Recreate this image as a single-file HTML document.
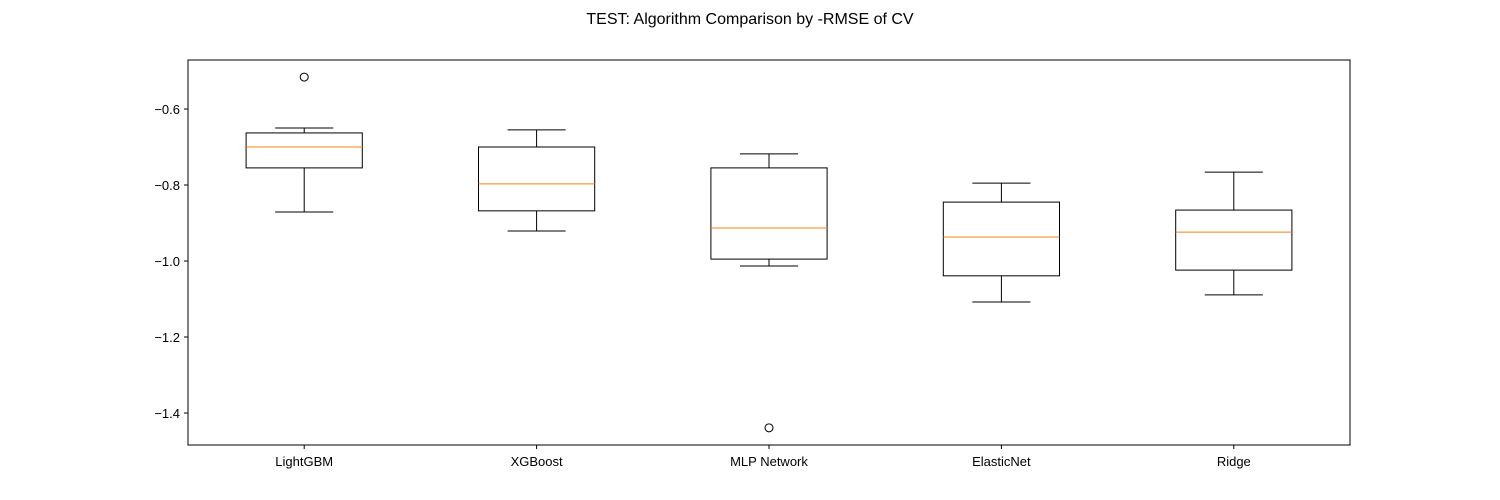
<!DOCTYPE html>
<html><head><meta charset="utf-8"><style>
body{margin:0;background:#fff;}
svg{display:block;font-family:"Liberation Sans","DejaVu Sans",sans-serif;}
</style></head><body>
<svg id="chart" width="1500" height="500" viewBox="0 0 1500 500" xmlns="http://www.w3.org/2000/svg">
<text x="750" y="24" text-anchor="middle" font-size="16">TEST: Algorithm Comparison by -RMSE of CV</text>
<rect x="188" y="60" width="1162" height="385" fill="none" stroke="#000" stroke-width="1"/>
<g id="ticks"></g><g id="boxes"></g>
</svg>
<script>
const categories=["LightGBM","XGBoost","MLP Network","ElasticNet","Ridge"];
const whiskerHigh=[-0.650,-0.655,-0.718,-0.795,-0.766];
const q3=[-0.663,-0.700,-0.755,-0.845,-0.866];
const medians=[-0.700,-0.797,-0.913,-0.937,-0.924];
const q1=[-0.755,-0.868,-0.995,-1.039,-1.024];
const whiskerLow=[-0.871,-0.921,-1.013,-1.108,-1.089];
const outliers=[[-0.516],[],[-1.439],[],[]];
const yTicks=[-0.6,-0.8,-1.0,-1.2,-1.4];
const yTickLabels=["\u22120.6","\u22120.8","\u22121.0","\u22121.2","\u22121.4"];

const NS="http://www.w3.org/2000/svg";
const left=188,right=1350;
const step=(right-left)/categories.length;
function xScale(i){return left+step*(i+0.5);}
function yScale(v){return 109+(-0.6-v)*380;}
function mk(tag,attrs,parent){const e=document.createElementNS(NS,tag);for(const k in attrs)e.setAttribute(k,attrs[k]);parent.appendChild(e);return e;}
const tg=document.getElementById('ticks'),bg=document.getElementById('boxes');
yTicks.forEach((v,i)=>{
  const y=yScale(v);
  const t=mk('line',{x1:left-4,x2:left,y1:y,y2:y,stroke:'#000'},tg);
  
  
  const l=mk('text',{x:left-8,y:y+5,'text-anchor':'end','font-size':'13'},tg);
  l.textContent=yTickLabels[i];
  
  
});
const bw=step*0.5,cw=step*0.25;
categories.forEach((c,i)=>{
  const x=xScale(i);
  const g=mk('g',{},bg);
  
  
  mk('line',{x1:x,x2:x,y1:yScale(whiskerHigh[i]),y2:yScale(q3[i]),stroke:'#000'},g);
  mk('line',{x1:x,x2:x,y1:yScale(q1[i]),y2:yScale(whiskerLow[i]),stroke:'#000'},g);
  mk('line',{x1:x-cw/2,x2:x+cw/2,y1:yScale(whiskerHigh[i]),y2:yScale(whiskerHigh[i]),stroke:'#000'},g);
  mk('line',{x1:x-cw/2,x2:x+cw/2,y1:yScale(whiskerLow[i]),y2:yScale(whiskerLow[i]),stroke:'#000'},g);
  mk('rect',{x:x-bw/2,y:yScale(q3[i]),width:bw,height:yScale(q1[i])-yScale(q3[i]),fill:'none',stroke:'#000'},g);
  mk('line',{x1:x-bw/2,x2:x+bw/2,y1:yScale(medians[i]),y2:yScale(medians[i]),stroke:'#ff7f0e'},g);
  outliers[i].forEach(v=>{mk('circle',{cx:x,cy:yScale(v),r:4,fill:'none',stroke:'#000'},g);});
  mk('line',{x1:x,x2:x,y1:445,y2:449,stroke:'#000'},g);
  const l=mk('text',{x:x,y:466,'text-anchor':'middle','font-size':'13'},bg);
  l.textContent=c;
  
  
});
</script>
</body></html>
